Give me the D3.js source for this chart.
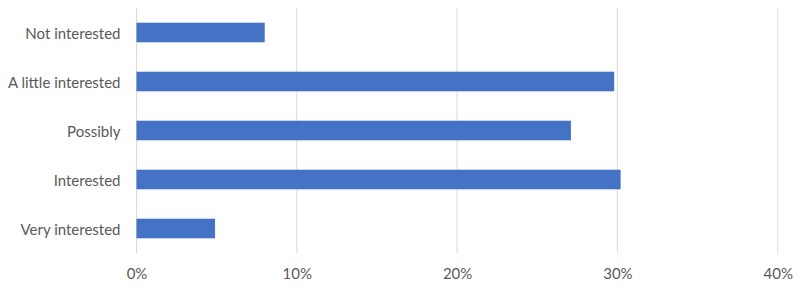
<!DOCTYPE html>
<html><head><meta charset="utf-8">
<script src="https://cdn.jsdelivr.net/npm/d3@7"></script>
<style>body{margin:0;background:#fff}svg{display:block}</style>
</head><body>
<svg id="c" width="800" height="291"></svg>
<script>
const categories = ["Not interested","A little interested","Possibly","Interested","Very interested"];
const values = [0.080, 0.298, 0.271, 0.302, 0.049];
const ticks = [0, 0.1, 0.2, 0.3, 0.4];

const svg = d3.select("#c");
const x = d3.scaleLinear().domain([0, 0.4]).range([136.5, 777.7]);
const y = d3.scaleBand().domain(categories).range([8, 253]).paddingInner(0.6).paddingOuter(0.3);
const font = "Lato, 'Open Sans', sans-serif";

svg.append("g").selectAll("line").data(ticks).join("line")
  .attr("x1", d => x(d)).attr("x2", d => x(d))
  .attr("y1", 8).attr("y2", 253)
  .attr("stroke", "#d9d9d9").attr("stroke-width", 1);

svg.append("g").selectAll("rect").data(values).join("rect")
  .attr("x", x(0))
  .attr("y", (d, i) => y(categories[i]))
  .attr("width", d => x(d) - x(0))
  .attr("height", y.bandwidth())
  .attr("fill", "#4472C4");

const xAxis = svg.append("g").attr("transform", "translate(0,253)")
  .call(d3.axisBottom(x).tickValues(ticks).tickFormat(d3.format(".0%")).tickSize(0).tickPadding(15));
xAxis.select(".domain").remove();
xAxis.selectAll("text").attr("fill", "#595959").style("font-family", font).style("font-size", "15px");

const yAxis = svg.append("g").attr("transform", "translate(136.5,1.5)")
  .call(d3.axisLeft(y).tickSize(0).tickPadding(16));
yAxis.select(".domain").remove();
yAxis.selectAll("text").attr("fill", "#595959").style("font-family", font).style("font-size", "15px");
</script>
</body></html>
